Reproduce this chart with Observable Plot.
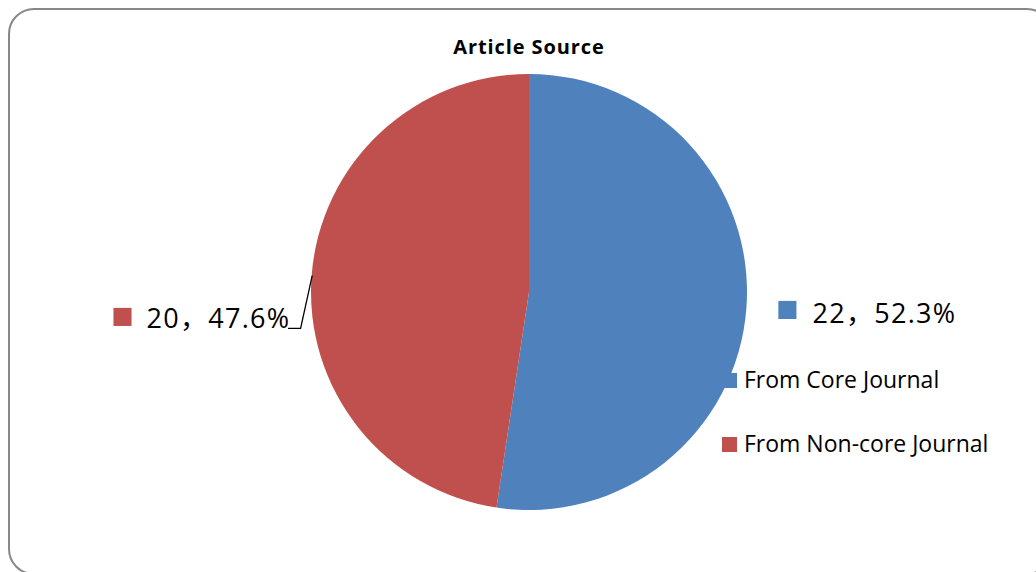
<!DOCTYPE html>
<html><head><meta charset="utf-8">
<script src="https://cdn.jsdelivr.net/npm/d3@7"></script>
<script src="https://cdn.jsdelivr.net/npm/@observablehq/plot@0.6"></script>
<style>
body{margin:0;background:#fff;overflow:hidden;}
#wrap{position:relative;width:1036px;height:572px;overflow:hidden;font-family:"Open Sans",sans-serif;background:#fff;}
#frame{position:absolute;left:8px;top:8px;width:1045px;height:567px;border:2px solid #888;border-radius:26px;box-sizing:border-box;}
#chart{position:absolute;left:0;top:0;}
#chart svg text{font-family:"Open Sans","Noto Sans CJK SC",sans-serif !important;}
#title{position:absolute;left:329px;width:400px;top:37px;text-align:center;font-weight:bold;font-size:20px;line-height:20px;letter-spacing:0.9px;color:#000;}
.leg{position:absolute;left:722px;font-size:23px;line-height:23px;color:#000;white-space:nowrap;}
.leg span.sw{position:absolute;left:0;width:15px;height:15px;}
.leg span.tx{position:absolute;left:22px;top:0;}
</style>
</head><body>
<div id="wrap">
  <div id="frame"></div>
  <div id="chart"></div>
  <div id="title">Article Source</div>
  <div id="legend"></div>
</div>
<script>
// ---- data ----
const categories = ["From Core Journal", "From Non-core Journal"];
const counts = [22, 20];
const percentLabels = ["52.3%", "47.6%"];
const colors = ["#4F81BD", "#C0504D"];

const rows = categories.map((c, i) => ({category: c, count: counts[i], pct: percentLabels[i], color: colors[i]}));
const arcs = d3.pie().sort(null).value(d => d.count)(rows);

// ---- layout (in pie-radius units) ----
const labelLayout = [
  {sq: [1.183, -0.080], tx: [1.298, -0.098]},
  {sq: [-1.867, -0.112], tx: [-1.757, -0.121], leader: [[-1.105, -0.165], [-1.05, -0.165]]}
];

const squares = rows.map((d, i) => ({x: labelLayout[i].sq[0], y: labelLayout[i].sq[1], color: d.color}));
const texts = rows.map((d, i) => ({x: labelLayout[i].tx[0], y: labelLayout[i].tx[1], label: `${d.count}，${d.pct}`}));

const leaderPts = [];
arcs.forEach((a, i) => {
  if (!labelLayout[i].leader) return;
  const mid = (a.startAngle + a.endAngle) / 2;
  labelLayout[i].leader.forEach(p => leaderPts.push({x: p[0], y: p[1]}));
  leaderPts.push({x: Math.sin(mid), y: Math.cos(mid)});
});

const pieMark = (index, scales) => {
  const cx = scales.x(0), cy = scales.y(0);
  const r = scales.x(1) - cx;
  const arc = d3.arc().innerRadius(0).outerRadius(r);
  const g = d3.create("svg:g").attr("transform", `translate(${cx},${cy})`);
  g.selectAll("path").data(arcs).join("path").attr("d", arc).attr("fill", d => d.data.color);
  return g.node();
};

const chart = Plot.plot({
  width: 1036, height: 572,
  margin: 0,
  style: {background: "transparent", overflow: "visible"},
  x: {domain: [-1, 1], range: [311, 747], axis: null},
  y: {domain: [-1, 1], range: [510, 74], axis: null},
  marks: [
    pieMark,
    Plot.line(leaderPts, {x: "x", y: "y", stroke: "#000", strokeWidth: 1.3, curve: "linear"}),
    Plot.dot(squares, {x: "x", y: "y", symbol: "square", r: 10.2, fill: "color"}),
    Plot.text(texts, {x: "x", y: "y", text: "label", textAnchor: "start", fontSize: 27, fill: "#000", lineAnchor: "middle"})
  ]
});
chart.querySelectorAll("text").forEach(t => t.setAttribute("letter-spacing", "1.3"));
document.getElementById("chart").appendChild(chart);

// ---- legend ----
const legTops = [368, 432];
const leg = document.getElementById("legend");
rows.forEach((d, i) => {
  const div = document.createElement("div");
  div.className = "leg";
  div.style.top = legTops[i] + "px";
  div.innerHTML = `<span class="sw" style="background:${d.color};top:5px"></span><span class="tx">${d.category}</span>`;
  leg.appendChild(div);
});
</script>
</body></html>
